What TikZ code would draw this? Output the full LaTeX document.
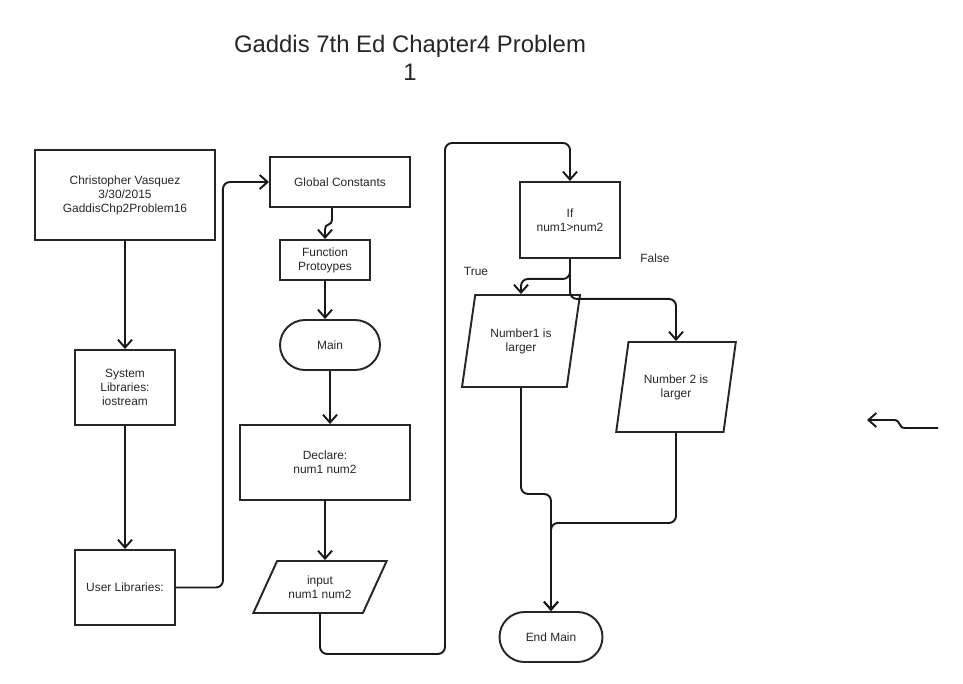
\documentclass[tikz,border=0pt]{standalone}
\usepackage{fontspec}
\setmainfont{Liberation Sans}
\usetikzlibrary{shapes.geometric,arrows.meta,calc}

\begin{document}
\begin{tikzpicture}[%
    x=0.02cm, y=-0.02cm,
    every node/.style={font=\fontsize{6.8pt}{8pt}\selectfont, text=black!85},
    box/.style={
      rectangle,
      draw=black!85,
      line width=1.1pt,
      align=center,
      inner sep=1pt
    },
    term/.style={
      box,
      rounded corners=0.5cm,
      minimum height=1cm
    },
    io/.style={
      trapezium,
      draw=black!85,
      line width=1.1pt,
      align=center,
      trapezium stretches=true,
      inner sep=1pt
    },
    arr/.style={
      draw=black!90,
      line width=1.1pt,
      rounded corners=4pt,
      -{Straight Barb[length=4.5pt,width=8pt]}
    }
  ]
    \useasboundingbox (0,0) rectangle (963,683);

    % title
    \draw (410,58) node[font=\fontsize{13.6pt}{16pt}\selectfont, align=center] (title)
      {Gaddis 7th Ed Chapter4 Problem\\1};

    % left column
    \draw (125,195) node[box, minimum width=3.6cm, minimum height=1.8cm] (auth)
      {Christopher Vasquez\\3/30/2015\\GaddisChp2Problem16};
    \draw (125,387.5) node[box, minimum width=2cm, minimum height=1.5cm] (syslib)
      {System\\Libraries:\\iostream};
    \draw (125,587.5) node[box, minimum width=2cm, minimum height=1.5cm] (usrlib)
      {User Libraries:};

    % middle column
    \draw (340,182) node[box, minimum width=2.8cm, minimum height=1cm] (glob)
      {Global Constants};
    \draw (325,260) node[box, minimum width=1.8cm, minimum height=0.8cm] (func)
      {Function\\Protoypes};
    \draw (330,345) node[term, minimum width=2cm] (main) {Main};
    \draw (325,462.5) node[box, minimum width=3.4cm, minimum height=1.5cm] (decl)
      {Declare:\\num1 num2};
    \draw (320,587) node[io, trapezium left angle=55, trapezium right angle=125,
      minimum width=2.68cm, minimum height=1.04cm] (inp) {input\\num1 num2};

    % right column
    \draw (570,220) node[box, minimum width=2cm, minimum height=1.52cm] (ifb)
      {If\\num1>num2};
    \draw (521,341) node[io, trapezium left angle=72, trapezium right angle=108,
      minimum width=2.36cm, minimum height=1.84cm] (n1) {Number1 is\\larger};
    \draw (676,387) node[io, trapezium left angle=73, trapezium right angle=107,
      minimum width=2.4cm, minimum height=1.8cm] (n2) {Number 2 is\\larger};
    \draw (551,637) node[term, minimum width=2.06cm] (endm) {End Main};

    \draw (476,271) node (true) {True};
    \draw (655,258) node (false) {False};

    % connectors
    \coordinate (loop) at (445,143);
    \draw[arr] (auth) -- (syslib);
    \draw[arr] (syslib) -- (usrlib);
    \draw[arr] (usrlib.east) -- ++(47,0) |- (glob.west);
    \draw[arr, rounded corners=0pt] ($(glob.south)+(-8,0)$) -- ++(0,12)
      .. controls ++(0,6) and ++(0,-6) .. ($(func.north)+(0,-10)$) -- (func.north);
    \draw[arr] (func.south) -- (func.south |- main.north);
    \draw[arr] (main.south) -- (main.south |- decl.north);
    \draw[arr] (decl.south) -- (decl.south |- inp.north);
    \draw[arr] (inp.south) -- ++(0,40) -| (loop) -| (ifb.north);
    \draw[arr] (ifb.south) -- ++(0,20) -| (n1.north);
    \draw[arr] (ifb.south) -- ++(0,40) -| (n2.north);
    \draw[arr] (n1.south) -- ++(0,106) -| (endm.north);
    \draw[arr] (n2.south) -- ++(0,90) -| (endm.north);

    % stray arrow
    \coordinate (wa) at (938,428);
    \coordinate (wb) at (867,420);
    \draw[arr, rounded corners=0pt] (wa) -- (905,428)
      .. controls (898,428) and (901,420) .. (894,420) -- (wb);

  \end{tikzpicture}
\end{document}
